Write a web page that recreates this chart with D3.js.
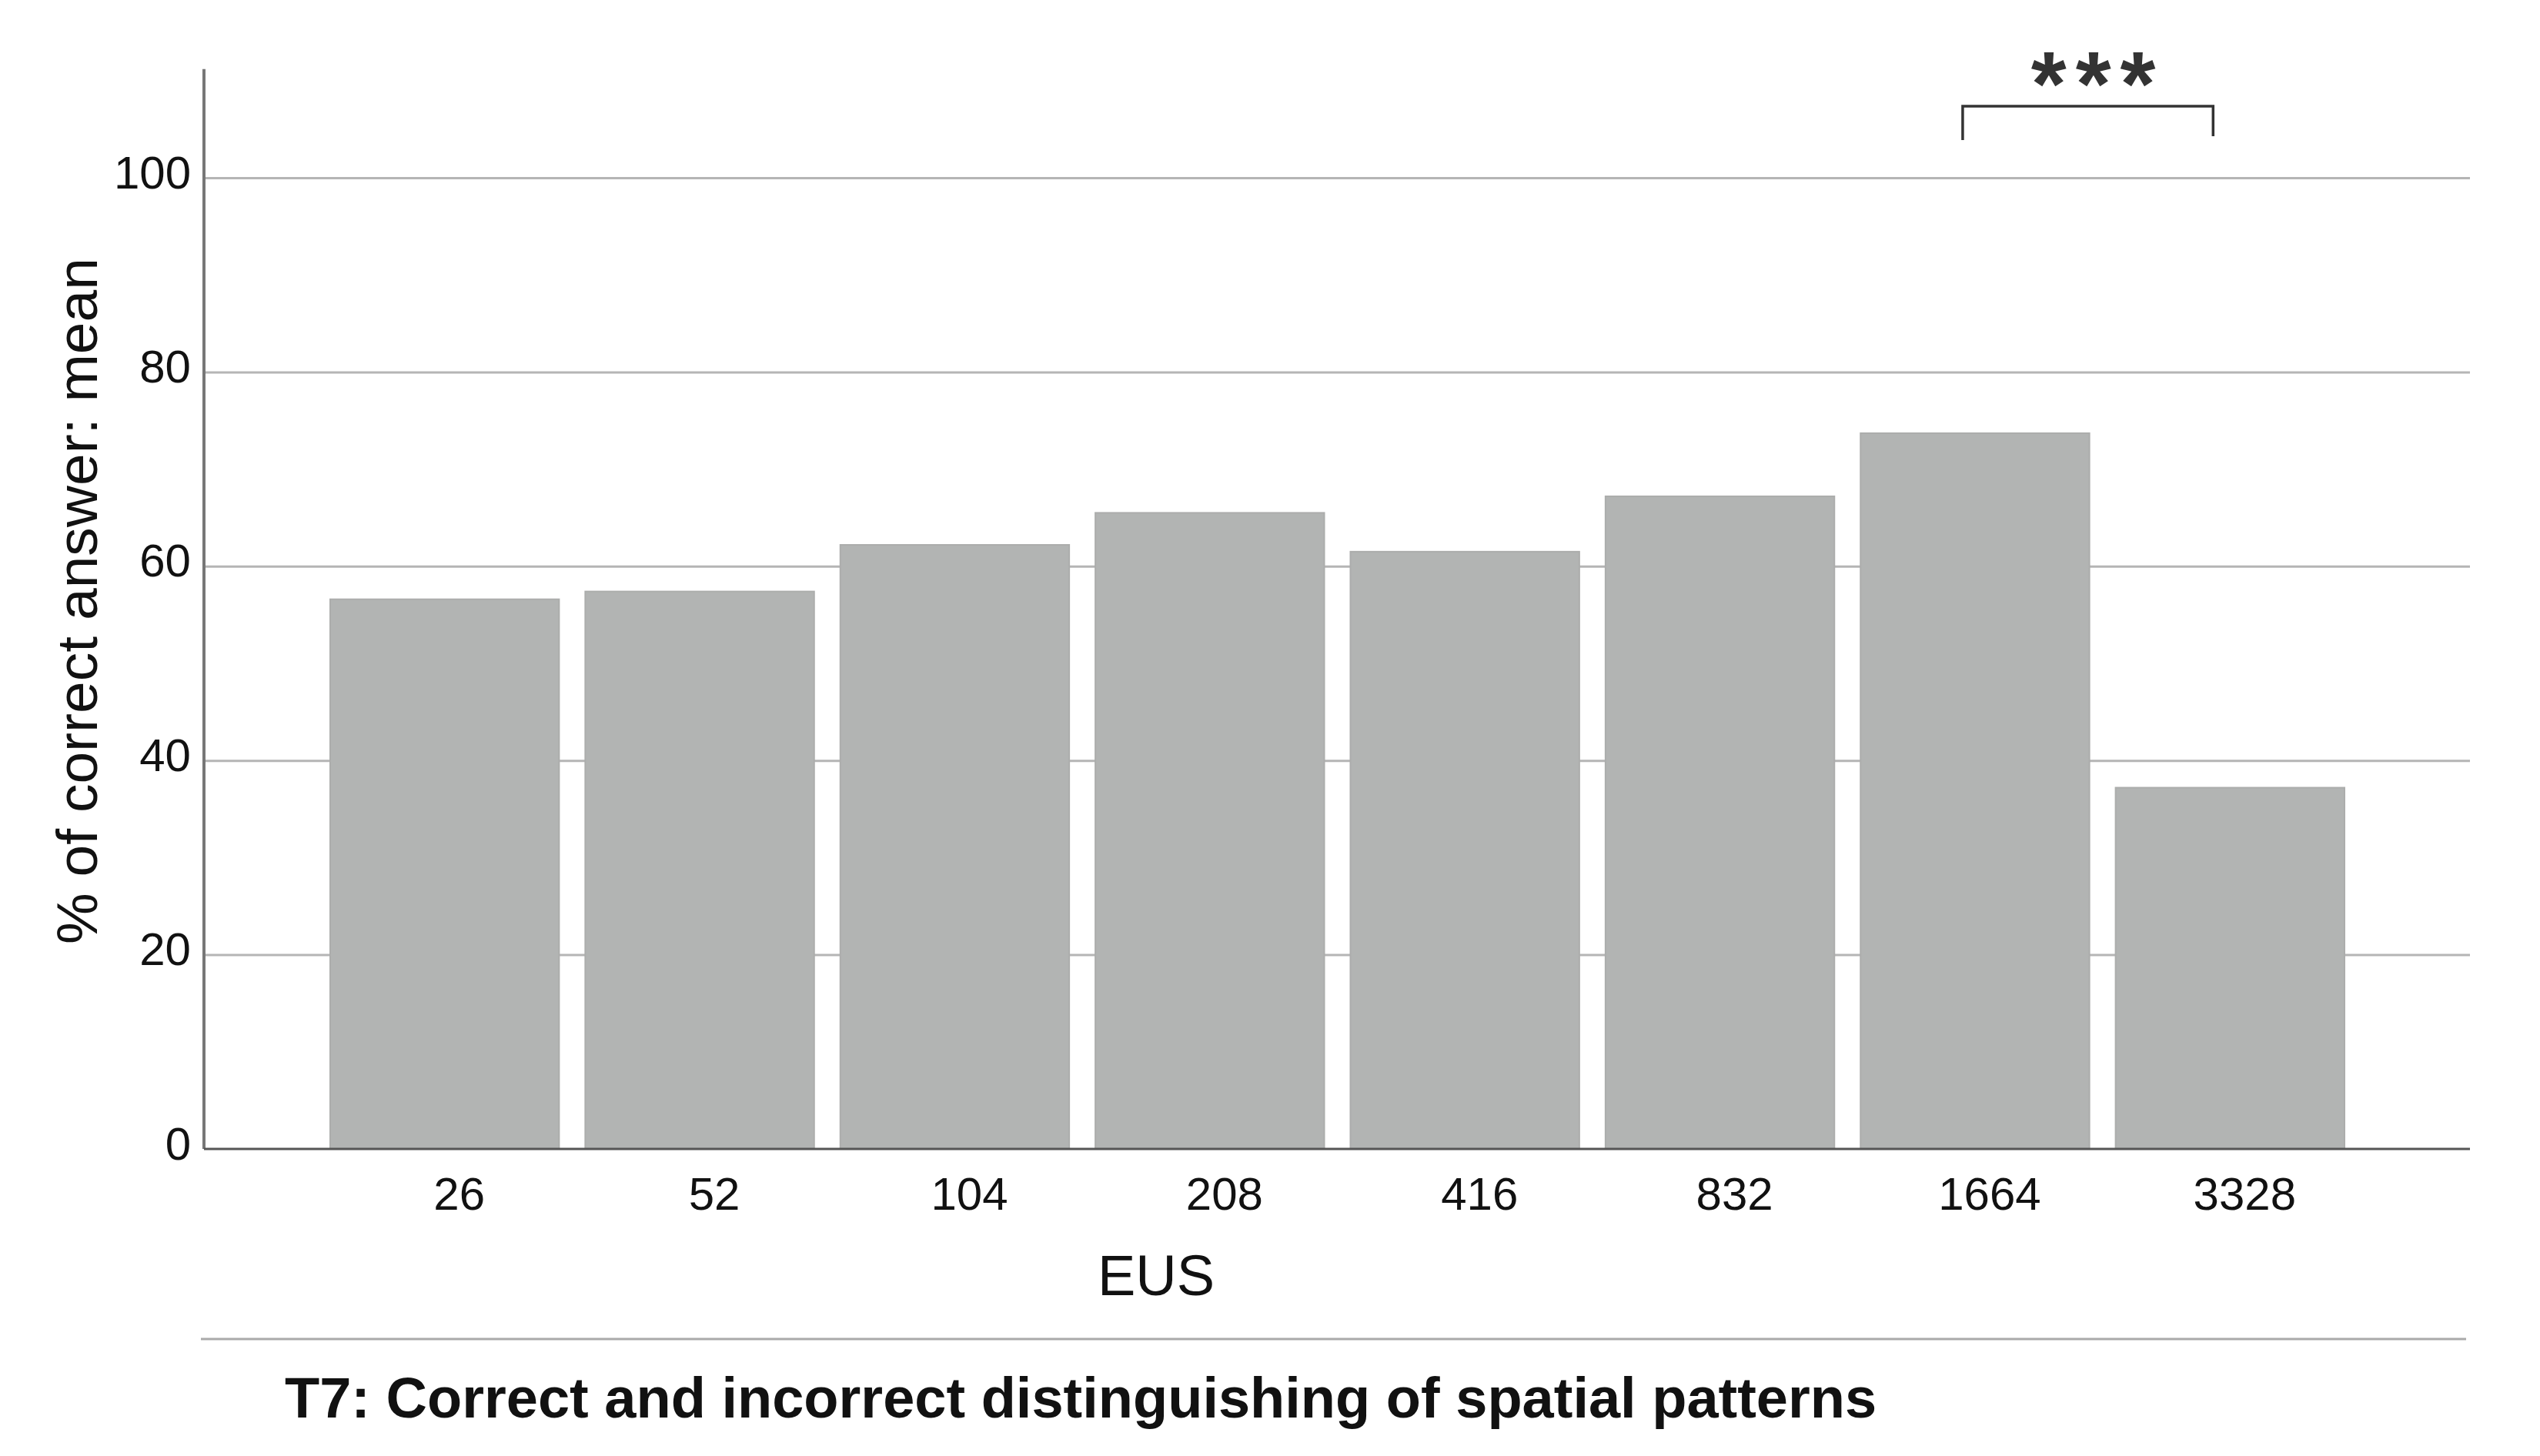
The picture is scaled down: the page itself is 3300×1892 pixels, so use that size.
<!DOCTYPE html>
<html>
<head>
<meta charset="utf-8">
<script src="https://cdn.jsdelivr.net/npm/d3@7"></script>
<style>
  html, body { margin: 0; padding: 0; background: #ffffff; }
  svg { display: block; }
  text { font-family: "Liberation Sans", Arial, sans-serif; }
</style>
</head>
<body>
<script>
// ---- data ----
const categories = ["26", "52", "104", "208", "416", "832", "1664", "3328"];
const values = [56.6, 57.4, 62.2, 65.5, 61.5, 67.2, 73.7, 37.2];
const yTicks = [0, 20, 40, 60, 80, 100];
const yAxisTitle = "% of correct answer: mean";
const xAxisTitle = "EUS";
const chartTitle = "T7: Correct and incorrect distinguishing of spatial patterns";
const significance = { from: "1664", to: "3328", label: "***" };

// ---- layout ----
const W = 3300, H = 1892;
const axisX = 265, axisRight = 3209;
const barsLeft = 429, barsRight = 3046;
const yTop100 = 231, yZero = 1493;

const svg = d3.select("body").append("svg")
  .attr("width", W).attr("height", H);

const x = d3.scaleBand()
  .domain(categories)
  .range([barsLeft, barsRight])
  .paddingInner(0.1026)
  .paddingOuter(0);

const y = d3.scaleLinear()
  .domain([0, 100])
  .range([yZero, yTop100]);

// gridlines
const grid = svg.append("g")
  .attr("transform", `translate(${axisX},0)`)
  .call(d3.axisLeft(y).tickValues(yTicks.filter(d => d > 0)).tickSize(-(axisRight - axisX)).tickFormat(""));
grid.select(".domain").remove();
grid.selectAll(".tick line").attr("stroke", "#b5b5b5").attr("stroke-width", 3);

// bars
svg.append("g").selectAll("rect")
  .data(categories.map((c, i) => ({ c, v: values[i] })))
  .join("rect")
  .attr("x", d => x(d.c))
  .attr("y", d => y(d.v))
  .attr("width", x.bandwidth())
  .attr("height", d => y(0) - y(d.v))
  .attr("fill", "#b2b4b3")
  .attr("stroke", "#acadac")
  .attr("stroke-width", 2);

// y axis line (extends above 100)
svg.append("line")
  .attr("x1", axisX).attr("x2", axisX)
  .attr("y1", y(111.2)).attr("y2", y(0))
  .attr("stroke", "#777").attr("stroke-width", 4);

// y tick labels
const yAxis = svg.append("g")
  .attr("transform", `translate(${axisX},0)`)
  .call(d3.axisLeft(y).tickValues(yTicks).tickSize(0).tickPadding(17));
yAxis.select(".domain").remove();
yAxis.selectAll(".tick text")
  .attr("dy", 13)
  .attr("font-size", 60)
  .attr("fill", "#111")
  .style("font-family", "'Liberation Sans', Arial, sans-serif");

// x baseline
svg.append("line")
  .attr("x1", axisX).attr("x2", axisRight)
  .attr("y1", y(0)).attr("y2", y(0))
  .attr("stroke", "#555").attr("stroke-width", 3);

// x tick labels
const xAxis = svg.append("g")
  .attr("transform", `translate(0,${y(0)})`)
  .call(d3.axisBottom(x).tickSize(0).tickPadding(36));
xAxis.select(".domain").remove();
xAxis.selectAll(".tick text")
  .attr("dx", 19)
  .attr("font-size", 60)
  .attr("fill", "#111")
  .style("font-family", "'Liberation Sans', Arial, sans-serif");

// axis titles
svg.append("text")
  .attr("transform", `translate(126,781) rotate(-90)`)
  .attr("text-anchor", "middle")
  .attr("font-size", 75)
  .attr("fill", "#111")
  .text(yAxisTitle);

svg.append("text")
  .attr("x", 1502).attr("y", 1683)
  .attr("text-anchor", "middle")
  .attr("font-size", 74)
  .attr("fill", "#111")
  .text(xAxisTitle);

// divider line
svg.append("line")
  .attr("x1", 261).attr("x2", 3204)
  .attr("y1", 1740).attr("y2", 1740)
  .attr("stroke", "#aaa").attr("stroke-width", 3);

// chart title
svg.append("text")
  .attr("x", 370).attr("y", 1842)
  .attr("font-size", 74)
  .attr("font-weight", "bold")
  .attr("fill", "#111")
  .text(chartTitle);

// significance bracket
const bx1 = x(significance.from) + x.bandwidth() / 2 - 16;
const bx2 = x(significance.to) + x.bandwidth() / 2 - 22;
svg.append("path")
  .attr("d", `M${bx1},182 V138 H${bx2} V177`)
  .attr("fill", "none")
  .attr("stroke", "#333")
  .attr("stroke-width", 3.5);

const starSpacing = 12;
svg.append("text")
  .attr("x", (bx1 + bx2) / 2 + 7 + starSpacing / 2)
  .attr("y", 150)
  .attr("text-anchor", "middle")
  .attr("font-size", 118)
  .attr("font-weight", "bold")
  .attr("letter-spacing", starSpacing)
  .attr("fill", "#333")
  .text(significance.label);
</script>
</body>
</html>
